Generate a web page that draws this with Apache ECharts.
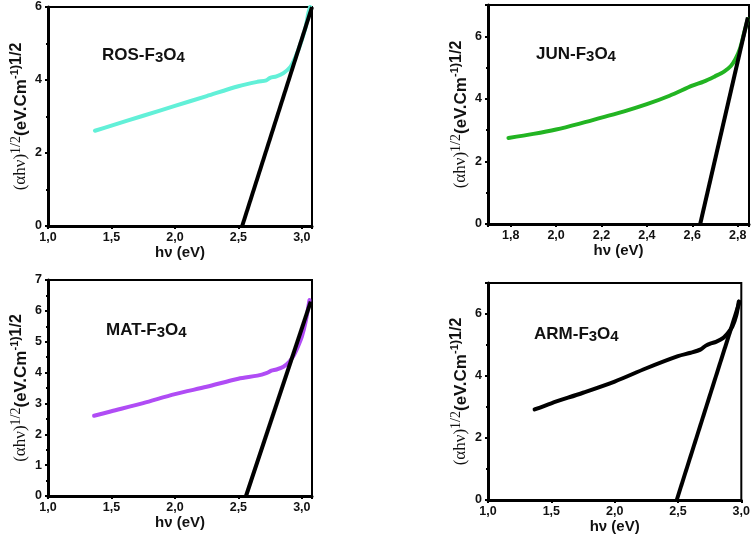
<!DOCTYPE html>
<html><head><meta charset="utf-8">
<script src="https://cdn.jsdelivr.net/npm/echarts@6/dist/echarts.min.js"></script>
<style>html,body{margin:0;padding:0;background:#fff}#c{width:753px;height:539px}</style>
</head><body><div id="c"></div>
<script>
// ---- data ----
const rosX = [1.37,1.5,1.75,2.0,2.25,2.5,2.65,2.72,2.75,2.8,2.855,2.91,2.95,2.99,3.03,3.05,3.065];
const rosY = [2.61,2.75,3.02,3.29,3.56,3.83,3.95,3.99,4.06,4.1,4.19,4.36,4.63,5.0,5.45,5.82,6.0];
const rosFitX = [2.53,3.08];
const rosFitY = [0,6];

const junX = [1.79,1.9,2.0,2.1,2.2,2.3,2.4,2.5,2.6,2.65,2.7,2.74,2.77,2.79,2.81,2.83,2.845];
const junY = [2.75,2.88,3.02,3.2,3.4,3.6,3.83,4.1,4.42,4.55,4.72,4.87,5.05,5.27,5.6,6.15,6.55];
const junFitX = [2.635,2.845];
const junFitY = [0,6.6];

const matX = [1.363,1.5,1.75,2.0,2.25,2.5,2.65,2.72,2.76,2.8,2.855,2.9,2.93,2.97,3.0,3.03,3.06];
const matY = [2.6,2.745,3.01,3.3,3.54,3.8,3.9,3.98,4.06,4.1,4.19,4.35,4.51,4.85,5.16,5.65,6.35];
const matFitX = [2.56,3.07];
const matFitY = [0,6.3];

const armX = [1.368,1.5,1.75,2.0,2.25,2.5,2.6,2.68,2.72,2.76,2.8,2.855,2.9,2.93,2.96,2.98];
const armY = [2.92,3.12,3.46,3.82,4.25,4.64,4.75,4.86,4.98,5.05,5.1,5.22,5.42,5.6,5.95,6.4];
const armFitX = [2.49,2.99];
const armFitY = [0,6.45];

const titles = ['ROS','JUN','MAT','ARM'];
const colors = ['#62f0d8','#22b422','#b04cf5','#000000'];

// ---- build ----
const zip = (a,b) => a.map((v,i)=>[v,b[i]]);
const panels = [
  {grid:{left:48,top:7,width:264,height:219}, xmin:1.0, xmax:3.08, xint:0.5, ymax:6, yint:2, ymaxLbl:true, cx:rosX, cy:rosY, fx:rosFitX, fy:rosFitY, t:[102,45]},
  {grid:{left:488,top:5,width:261,height:219}, xmin:1.7, xmax:2.85, xint:null, ymax:7, yint:2, ymaxLbl:false, cx:junX, cy:junY, fx:junFitX, fy:junFitY, t:[536,44]},
  {grid:{left:48,top:280,width:264,height:216}, xmin:1.0, xmax:3.08, xint:0.5, ymax:7, yint:1, ymaxLbl:true, cx:matX, cy:matY, fx:matFitX, fy:matFitY, t:[106,320]},
  {grid:{left:488,top:283,width:254,height:217}, xmin:1.0, xmax:3.0, xint:0.5, ymax:7, yint:2, ymaxLbl:false, cx:armX, cy:armY, fx:armFitX, fy:armFitY, t:[534,324]}
];

const lbl = {fontFamily:'Liberation Sans', fontWeight:'bold', fontSize:12.5, color:'#111'};
const yName = '{a|(αhν)}{s|1/2}{b|(eV.Cm}{t|-1}{c|)}{u|1/2}';
const yRich = {
  a:{fontFamily:'Liberation Serif', fontSize:17, color:'#111', lineHeight:24, verticalAlign:'middle'},
  s:{fontFamily:'Liberation Serif', fontSize:14, color:'#111', lineHeight:12, verticalAlign:'top'},
  b:{fontFamily:'Liberation Sans', fontWeight:'bold', fontSize:17, color:'#111', lineHeight:24, verticalAlign:'middle'},
  t:{fontFamily:'Liberation Sans', fontWeight:'bold', fontSize:11, color:'#111', lineHeight:12, verticalAlign:'top'},
  c:{fontFamily:'Liberation Sans', fontWeight:'bold', fontSize:13, color:'#111', lineHeight:16, verticalAlign:'top'},
  u:{fontFamily:'Liberation Sans', fontWeight:'bold', fontSize:16, color:'#111', lineHeight:12, verticalAlign:'top'}
};

const option = {animation:false, backgroundColor:'#fff', grid:[], xAxis:[], yAxis:[], series:[], title:[]};
panels.forEach((p,i)=>{
  option.grid.push(Object.assign({show:true, borderColor:'#000', borderWidth:2, containLabel:false}, p.grid));
  const xa = {
    type:'value', gridIndex:i, min:p.xmin, max:p.xmax,
    name:'hν (eV)', nameLocation:'middle', nameGap:18,
    nameTextStyle:{fontFamily:'Liberation Sans', fontWeight:'bold', fontSize:15, color:'#111'},
    axisLine:{show:true, onZero:false, lineStyle:{color:'#000', width:3}},
    axisTick:{show:true, inside:false, length:3, lineStyle:{color:'#000', width:2}},
    minorTick:{show:true, splitNumber:2, length:2, lineStyle:{color:'#000', width:2}},
    splitLine:{show:false},
    axisLabel:Object.assign({margin:5, showMinLabel: p.xint!==null, showMaxLabel: p.xmax===3.0, formatter:v=>v.toFixed(1).replace('.',',')}, lbl)
  };
  if (p.xint!==null) xa.interval = p.xint; else xa.splitNumber = 5;
  option.xAxis.push(xa);
  option.yAxis.push({
    type:'value', gridIndex:i, min:0, max:p.ymax, interval:p.yint,
    name:yName, nameLocation:'middle', nameRotate:90, nameGap:15,
    nameTextStyle:{rich:yRich},
    axisLine:{show:true, lineStyle:{color:'#000', width:3}},
    axisTick:{show:true, inside:false, length:3, lineStyle:{color:'#000', width:2}},
    minorTick:{show:true, splitNumber:2, length:2, lineStyle:{color:'#000', width:2}},
    splitLine:{show:false},
    axisLabel:Object.assign({margin:6, showMaxLabel:p.ymaxLbl, formatter:v=>String(v)}, lbl)
  });
  option.series.push({type:'line', xAxisIndex:i, yAxisIndex:i, data:zip(p.cx,p.cy), showSymbol:false, smooth:0.3,
    lineStyle:{color:colors[i], width:4, cap:'round', join:'round'}, z:3});
  option.series.push({type:'line', xAxisIndex:i, yAxisIndex:i, data:zip(p.fx,p.fy), showSymbol:false,
    lineStyle:{color:'#000', width:4}, z:4});
  option.title.push({left:p.t[0], top:p.t[1], padding:0, text:'{m|'+titles[i]+'-F}{s|3}{m|O}{s|4}',
    textStyle:{rich:{
      m:{fontFamily:'Liberation Sans', fontWeight:'bold', fontSize:17, color:'#111', lineHeight:20, verticalAlign:'middle'},
      s:{fontFamily:'Liberation Sans', fontWeight:'bold', fontSize:15, color:'#111', lineHeight:12, verticalAlign:'bottom'}
    }}});
});

const chart = echarts.init(document.getElementById('c'), null, {renderer:'canvas'});
chart.setOption(option);
</script></body></html>
